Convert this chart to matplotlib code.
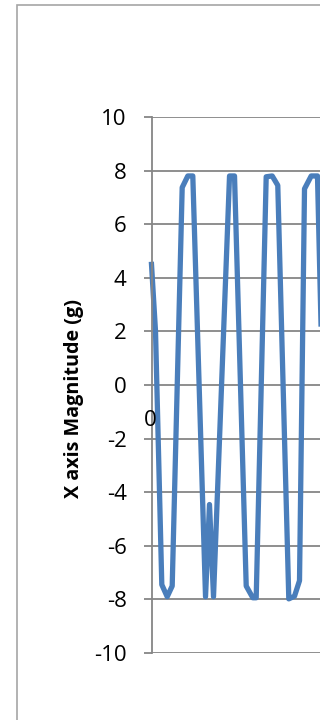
import matplotlib
matplotlib.use("Agg")
import matplotlib.pyplot as plt
from matplotlib.patches import Rectangle

# Sample positions (sample index units) and X-axis magnitude (g) at the line's vertices
x_samples = [0, 0.78, 2.0, 3.05, 4.02, 5.96, 7.05, 8.02, 10.49, 11.26, 12.04,
             15.15, 16.12, 18.39, 19.67, 20.33, 22.27, 23.44, 24.52, 26.66,
             27.77, 28.74, 29.71, 31.01, 31.84, 32.23, 34.17]
magnitude = [4.5, 2.0, -7.45, -7.9, -7.5, 7.37, 7.8, 7.8, -7.9, -4.46, -7.9,
             7.8, 7.8, -7.5, -7.94, -7.94, 7.77, 7.8, 7.45, -7.98,
             -7.88, -7.3, 7.32, 7.8, 7.8, 7.8, -7.9]
y_ticks = [-10, -8, -6, -4, -2, 0, 2, 4, 6, 8, 10]
y_label = "X axis Magnitude (g)"
x_tick_label = "0"

W, H = 320, 720
fig = plt.figure(figsize=(W / 100, H / 100), dpi=100)
plt.rcParams['font.family'] = ['Open Sans', 'DejaVu Sans']

# outer chart-area border (cropped on right and bottom)
fig.patches.append(Rectangle((17 / W, -0.1), 1.2, 1 - 5 / H + 0.1,
                             transform=fig.transFigure, fill=False,
                             edgecolor='#A6A6A6', linewidth=1.2))

ax_left = 151.5 / W
ax_bottom = 1 - 653 / H
ax_height = (653 - 117) / H
ax_width_px = 400
ax = fig.add_axes([ax_left, ax_bottom, ax_width_px / W, ax_height])
px_per_unit = 5.15
ax.set_xlim(0, ax_width_px / px_per_unit)
ax.set_ylim(-10, 10)

grid_color = '#868686'
ax.set_yticks(y_ticks)
ax.set_yticklabels([str(v) for v in y_ticks])
ax.yaxis.grid(True, color=grid_color, linewidth=1.3)
ax.set_axisbelow(True)
ax.set_xticks([])
for s in ['top', 'right', 'bottom']:
    ax.spines[s].set_visible(False)
ax.spines['left'].set_color(grid_color)
ax.spines['left'].set_linewidth(1.3)
ax.tick_params(axis='y', direction='out', length=6, width=1.3, color=grid_color,
               labelsize=16, pad=12, labelcolor='black')

ax.plot(x_samples, magnitude, color='#4A7EBB', linewidth=3.8,
        solid_joinstyle='round', clip_on=False)

ax.annotate(x_tick_label, xy=(0, 0), xycoords='data', xytext=(-1, -35),
            textcoords='offset pixels', ha='center', va='center', fontsize=16)

fig.text(74 / W, 1 - 398 / H, y_label, rotation=90, ha='center', va='center',
         fontsize=14.2, fontweight='bold')

fig.savefig('out.png', dpi=100)
